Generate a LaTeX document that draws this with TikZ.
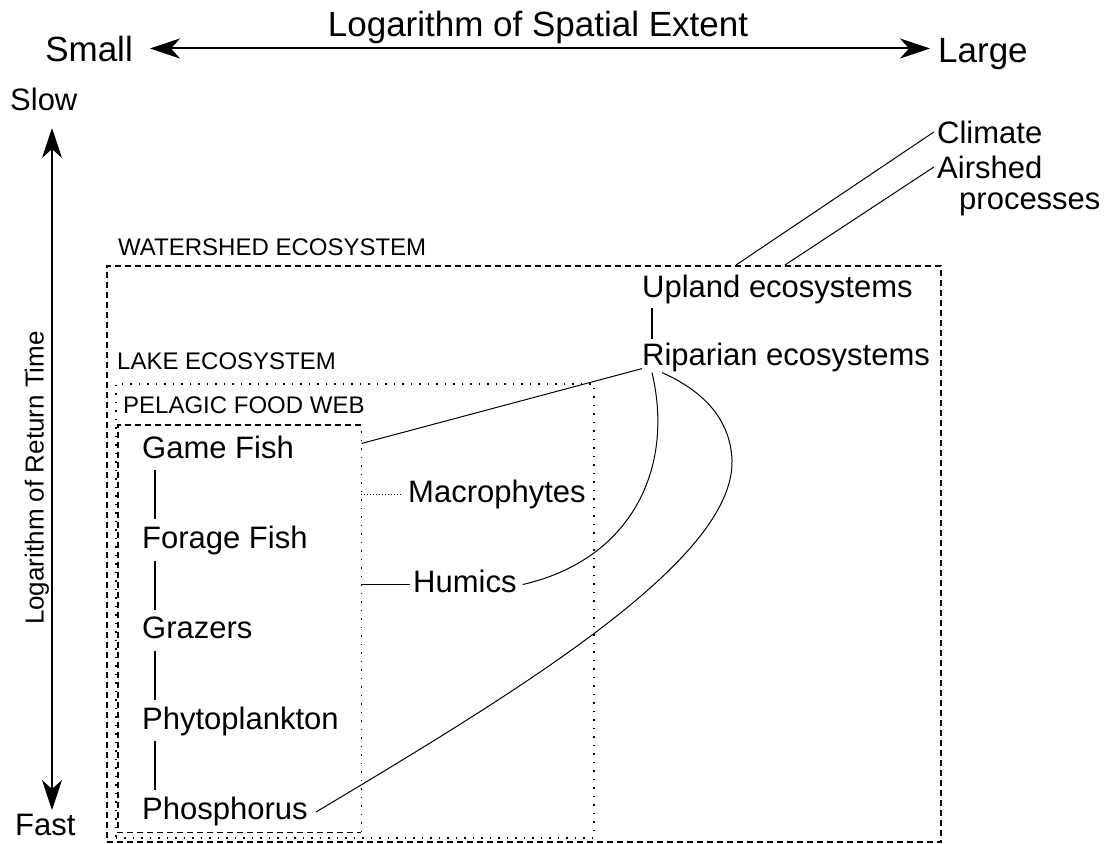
\documentclass[tikz,border=0pt]{standalone}
\usepackage{fontspec}
\setmainfont{Liberation Sans}
\usetikzlibrary{positioning,arrows.meta}

\begin{document}
\begin{tikzpicture}[
  x=1pt, y=-1pt,
  node distance=61pt,
  lbl/.style={inner sep=0pt, anchor=base west, text height=22pt, text depth=7pt,
              font=\fontsize{31}{37}\selectfont},
  boxtitle/.style={inner sep=0pt, anchor=base west, font=\fontsize{24}{29}\selectfont},
  axislbl/.style={inner sep=0pt, font=\fontsize{35}{42}\selectfont},
  sidelbl/.style={inner sep=0pt, anchor=base west, font=\fontsize{31}{37}\selectfont},
  region/.style={inner sep=0pt, anchor=north west},
  wsline/.style={line width=1.6pt, dash pattern=on 6pt off 4pt},
  lakeline/.style={line width=1.5pt, dash pattern=on 1.5pt off 7pt},
  pelline/.style={line width=1.5pt, dash pattern=on 6pt off 4pt},
  axis/.style={line width=2pt,
    {Stealth[length=30pt,width=20pt,inset=9pt]}-{Stealth[length=30pt,width=20pt,inset=9pt]}},
  link/.style={line width=1pt},
  chain/.style={line width=1.5pt}
]
\useasboundingbox (0,0) rectangle (1104,844);

% spatial axis
\node[axislbl, anchor=base] (spatial) at (538,36) {Logarithm of Spatial Extent};
\node[axislbl, anchor=base east] (small) at (133,61) {Small};
\node[axislbl, anchor=base west] (large) at (938,62) {Large};
\draw[axis] ([xshift=17pt]small.east) -- ([xshift=-8pt]small.east -| large.west);

% time axis
\node[sidelbl] (slow) at (10,110) {Slow};
\node[sidelbl] (fast) at (15,835) {Fast};
\coordinate (vtop) at (52,128);
\coordinate (vbot) at (52,810);
\draw[axis] (vtop) -- (vbot);
\node[rotate=90, inner sep=0pt, font=\fontsize{26}{31}\selectfont] (returntime) at (37,478) {Logarithm of Return Time};

% nested systems
\node[region, draw, wsline, minimum width=834pt, minimum height=576pt] (watershed) at (106,265) {};
\node[region, draw, lakeline, minimum width=478pt, minimum height=454pt] (lake) at (115,383) {};
\node[region, minimum width=243pt, minimum height=407pt] (pelagic) at (118,425) {};
\draw[pelline] (pelagic.north east) -- (pelagic.north west) -- (pelagic.south west) -- (pelagic.south east);
\draw[lakeline] (pelagic.south east) -- (pelagic.north east);
\node[boxtitle] (wstitle) at (118,255) {WATERSHED ECOSYSTEM};
\node[boxtitle] (laketitle) at (117,369) {LAKE ECOSYSTEM};
\node[boxtitle] (peltitle) at (123,413) {PELAGIC FOOD WEB};

% food web
\node[lbl] (gamefish) at (142,458) {Game Fish};
\node[lbl, below=of gamefish.south west, anchor=north west] (foragefish) {Forage Fish};
\node[lbl, below=of foragefish.south west, anchor=north west] (grazers) {Grazers};
\node[lbl, below=of grazers.south west, anchor=north west] (phyto) {Phytoplankton};
\node[lbl, below=of phyto.south west, anchor=north west] (phosphorus) {Phosphorus};
\foreach \a/\b in {gamefish/foragefish, foragefish/grazers, grazers/phyto, phyto/phosphorus}
  \draw[chain] ([xshift=13pt,yshift=-5pt]\a.south west) -- ([xshift=13pt,yshift=7pt]\b.north west);

\node[lbl] (macro) at (408,502) {Macrophytes};
\node[lbl] (humics) at (413,592) {Humics};
\draw[link, dash pattern=on 1pt off 2pt] (pelagic.east |- macro) -- ([xshift=-6pt]macro.west);
\draw[link] (pelagic.east |- humics) -- ([xshift=-3pt]humics.west);

% catchment
\node[lbl] (upland) at (642,297) {Upland ecosystems};
\node[lbl, below=39pt of upland.south west, anchor=north west] (riparian) {Riparian ecosystems};
\draw[chain] ([xshift=10pt,yshift=-4pt]upland.south west) -- ([xshift=10pt,yshift=4pt]riparian.north west);

\draw[link] ([yshift=7pt]pelagic.east |- gamefish) -- ([yshift=4pt]riparian.south west);
\draw[link] ([xshift=6pt]humics.east) .. controls (630,560) and (675,470) .. ([xshift=10pt]riparian.south west);
\draw[link] ([xshift=8pt]phosphorus.east) .. controls (520,690) and (735,560) .. (732,460)
  .. controls (730,410) and (690,385) .. ([xshift=20pt]riparian.south west);

% outside drivers
\node[sidelbl] (climate) at (937,143) {Climate};
\node[sidelbl] (airshed) at (937,178) {Airshed};
\node[sidelbl] (processes) at (959,209) {processes};
\coordinate (climfoot) at (736,265);
\coordinate (airfoot) at (785,265);
\draw[link] (climfoot) -- ([xshift=-3pt]climate.west);
\draw[link] (airfoot) -- ([xshift=-3pt]airshed.west);
\end{tikzpicture}
\end{document}
